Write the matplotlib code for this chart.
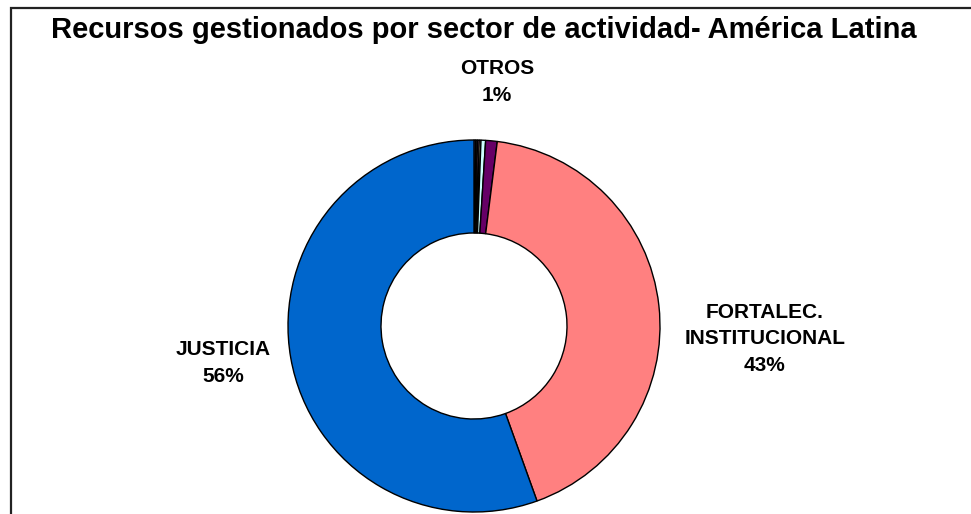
import matplotlib
matplotlib.use("Agg")
import matplotlib.pyplot as plt
from matplotlib.patches import Rectangle

# ---- data ----
categories = ["OTRO A", "OTRO B", "OTRO C", "OTRO D", "OTRO E", "OTROS",
              "FORTALEC.\nINSTITUCIONAL", "JUSTICIA"]
values = [0.15, 0.15, 0.15, 0.15, 0.4, 1.0, 42.5, 55.5]
colors = ["#9999FF", "#333333", "#FF99CC", "#FFFFCC", "#CCFFFF", "#660066",
          "#FF8080", "#0066CC"]
shown_labels = ["OTROS", "FORTALEC.\nINSTITUCIONAL", "JUSTICIA"]
title = "Recursos gestionados por sector de actividad- América Latina"

W, H = 971, 514
fig = plt.figure(figsize=(W / 100, H / 100), dpi=100)
fig.patch.set_facecolor("white")

# frame (left and top border)
fig.add_artist(Rectangle((11 / W, -0.05), 1.2, (H - 8) / H + 0.05,
                         transform=fig.transFigure, fill=False,
                         edgecolor="#222222", linewidth=1.6))

# pie axes: centre (474, 326) px, radius 186 px
cx, cy, R = 474, 326, 186
half = 200
ax = fig.add_axes([(cx - half) / W, (H - cy - half) / H, 2 * half / W, 2 * half / H])

ax.pie(values, colors=colors, startangle=90, counterclock=False, radius=1.0,
       wedgeprops=dict(width=0.5, edgecolor="black", linewidth=1.0))
lim = half / R
ax.set_xlim(-lim, lim)
ax.set_ylim(-lim, lim)
ax.set_aspect("equal")
ax.axis("off")

fig.text(484 / W, 1 - 30 / H, title, ha="center", va="center",
         fontsize=21, fontweight="bold", family="Liberation Sans")

total = sum(values)
label_pos = {"OTROS": (497, 82), "FORTALEC.\nINSTITUCIONAL": (765, 339),
             "JUSTICIA": (223, 363)}
for name in shown_labels:
    v = values[categories.index(name)]
    pct = int(v / total * 100 + 0.5)
    x, y = label_pos[name]
    fig.text(x / W, 1 - y / H, f"{name}\n{pct}%", ha="center", va="center",
             fontsize=15, fontweight="bold", family="Liberation Sans",
             linespacing=1.5)

fig.savefig("out.png", dpi=100, facecolor="white")
